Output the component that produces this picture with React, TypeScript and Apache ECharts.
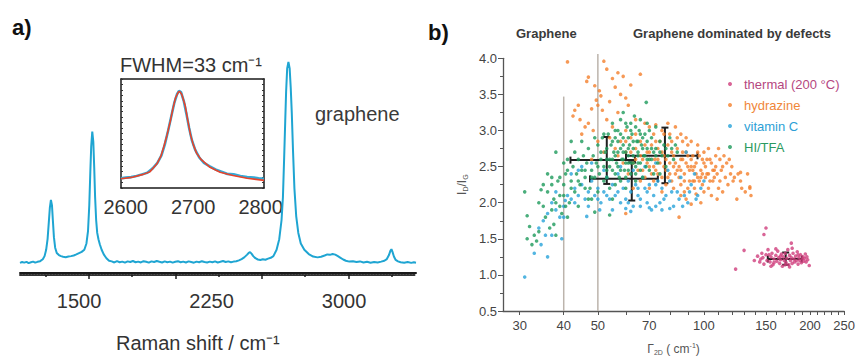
import React, { useEffect, useRef } from 'react';
import * as echarts from 'echarts';

// ---------- Panel a) Raman spectrum ----------
const SPECTRUM: [number, number][] = [
  [1166, 0.048], [1178, 0.052], [1190, 0.049], [1203, 0.053], [1215, 0.047], [1228, 0.051], [1240, 0.054], [1252, 0.049],
  [1265, 0.053], [1280, 0.056], [1295, 0.065], [1305, 0.08], [1314, 0.11], [1322, 0.16], [1329, 0.24], [1335, 0.31],
  [1341, 0.346], [1347, 0.32], [1352, 0.25], [1358, 0.17], [1365, 0.12], [1374, 0.095], [1386, 0.085], [1398, 0.08],
  [1410, 0.077], [1425, 0.075], [1440, 0.078], [1455, 0.08], [1470, 0.083], [1485, 0.088], [1500, 0.094], [1515, 0.1],
  [1530, 0.11], [1542, 0.14], [1551, 0.2], [1558, 0.32], [1564, 0.48], [1569, 0.6], [1575, 0.67], [1581, 0.62],
  [1586, 0.5], [1591, 0.36], [1597, 0.25], [1603, 0.19], [1610, 0.16], [1618, 0.135], [1628, 0.11], [1640, 0.088],
  [1655, 0.07], [1670, 0.058], [1685, 0.055], [1700, 0.05], [1715, 0.056], [1730, 0.051], [1745, 0.054], [1760, 0.049],
  [1775, 0.055], [1790, 0.052], [1805, 0.057], [1820, 0.051], [1835, 0.054], [1850, 0.05], [1865, 0.056], [1880, 0.053],
  [1895, 0.049], [1910, 0.055], [1925, 0.052], [1940, 0.057], [1955, 0.053], [1970, 0.05], [1985, 0.055], [2000, 0.051],
  [2015, 0.054], [2030, 0.049], [2045, 0.053], [2060, 0.056], [2075, 0.051], [2090, 0.054], [2105, 0.05], [2120, 0.055],
  [2135, 0.052], [2150, 0.049], [2165, 0.054], [2180, 0.051], [2195, 0.056], [2210, 0.052], [2225, 0.05], [2240, 0.054],
  [2255, 0.051], [2270, 0.055], [2285, 0.05], [2300, 0.053], [2315, 0.057], [2330, 0.052], [2345, 0.055], [2360, 0.051],
  [2375, 0.054], [2390, 0.056], [2405, 0.06], [2420, 0.066], [2435, 0.074], [2450, 0.086], [2460, 0.095], [2468, 0.099],
  [2476, 0.092], [2486, 0.08], [2498, 0.07], [2512, 0.064], [2526, 0.062], [2540, 0.065], [2555, 0.063], [2570, 0.068],
  [2585, 0.072], [2600, 0.08], [2618, 0.11], [2633, 0.16], [2646, 0.25], [2654, 0.36], [2661, 0.55], [2667, 0.72],
  [2672, 0.86], [2678, 0.97], [2685, 1.0], [2692, 0.97], [2698, 0.88], [2704, 0.76], [2711, 0.58], [2719, 0.4],
  [2729, 0.27], [2741, 0.19], [2755, 0.14], [2775, 0.11], [2800, 0.09], [2825, 0.078], [2850, 0.074], [2870, 0.077],
  [2890, 0.083], [2905, 0.088], [2920, 0.086], [2935, 0.09], [2950, 0.087], [2965, 0.08], [2980, 0.072], [2995, 0.064],
  [3010, 0.058], [3030, 0.054], [3050, 0.056], [3070, 0.052], [3090, 0.055], [3110, 0.05], [3130, 0.053], [3150, 0.049],
  [3170, 0.052], [3190, 0.05], [3210, 0.054], [3228, 0.058], [3242, 0.066], [3254, 0.085], [3262, 0.105], [3268, 0.113],
  [3274, 0.1], [3282, 0.078], [3292, 0.062], [3305, 0.055], [3320, 0.051], [3340, 0.049], [3360, 0.052], [3380, 0.048],
  [3395, 0.051], [3407, 0.049],
];
const SPEC_LABELS = [1500, 2250, 3000];
const SPEC_MAJOR_TICKS = [1555, 2045, 2535, 3025];
const SPEC_MINOR_TICKS = [1310, 1800, 2290, 2780, 3270];

// inset (2D band)
const INSET_MEASURED: [number, number][] = [
  [2593, 0.09], [2600, 0.095], [2608, 0.1], [2616, 0.11], [2624, 0.125], [2632, 0.14], [2640, 0.18], [2647, 0.23],
  [2653, 0.3], [2658, 0.4], [2663, 0.53], [2668, 0.67], [2672, 0.78], [2676, 0.86], [2679, 0.89], [2682, 0.88],
  [2686, 0.8], [2690, 0.68], [2694, 0.55], [2698, 0.44], [2703, 0.35], [2709, 0.28], [2716, 0.23], [2724, 0.2],
  [2733, 0.17], [2742, 0.15], [2750, 0.13], [2760, 0.125], [2770, 0.11], [2780, 0.1], [2790, 0.095], [2797, 0.09],
  [2805, 0.085],
];
const INSET_FIT: [number, number][] = [
  [2593, 0.085], [2611, 0.1], [2626, 0.125], [2636, 0.15], [2646, 0.22], [2652, 0.29], [2656, 0.37], [2661, 0.48],
  [2666, 0.61], [2670, 0.73], [2674, 0.83], [2678, 0.88], [2680, 0.885], [2683, 0.86], [2688, 0.76], [2692, 0.62],
  [2696, 0.49], [2700, 0.4], [2705, 0.32], [2712, 0.26], [2725, 0.19], [2740, 0.145], [2759, 0.115], [2780, 0.09],
  [2805, 0.07],
];
const INSET_LABELS = [2600, 2700, 2800];

// ---------- Panel b) I_D/I_G vs Gamma_2D ----------
const GAMMA_LABELS = [30, 40, 50, 70, 100, 150, 200, 250];
const GAMMA_TICKS = [30, 40, 50, 60, 70, 80, 90, 100, 110, 120, 130, 140, 150, 160, 170, 180, 190, 200, 210, 220, 230, 240, 250];
const GUIDE_LINES: [number, number][] = [[40, 3.47], [50, 4.06]];

const THERMAL: [number, number][] = [
  [150, 1.65], [148, 1.56], [123, 1.08], [130, 1.34], [139, 1.2], [177, 1.44], [142, 1.26], [145, 1.22], [146, 1.3],
  [148, 1.15], [150, 1.28], [151, 1.2], [152, 1.35], [154, 1.18], [155, 1.25], [156, 1.3], [157, 1.14], [158, 1.22],
  [160, 1.27], [161, 1.19], [162, 1.33], [163, 1.24], [164, 1.16], [165, 1.21], [166, 1.29], [167, 1.12], [168, 1.25],
  [169, 1.2], [170, 1.3], [171, 1.17], [172, 1.23], [173, 1.35], [174, 1.14], [175, 1.27], [176, 1.2], [177, 1.24],
  [178, 1.16], [179, 1.3], [180, 1.22], [181, 1.18], [182, 1.26], [183, 1.2], [184, 1.32], [185, 1.15], [186, 1.24],
  [187, 1.2], [188, 1.28], [189, 1.17], [190, 1.22], [191, 1.25], [192, 1.19], [193, 1.23], [195, 1.18], [196, 1.25],
  [197, 1.21], [199, 1.13], [160, 1.36], [155, 1.12], [178, 1.37], [144, 1.18], [153, 1.28], [175, 1.11], [185, 1.28],
  [165, 1.26], [158, 1.17], [170, 1.14], [194, 1.29], [147, 1.24],
];
const HYDRAZINE: [number, number][] = [
  [41, 3.95], [52, 3.96], [47, 3.74], [46.5, 3.68], [49, 3.62], [50.5, 3.55], [51, 3.48], [49.5, 3.42], [50, 3.35],
  [48, 3.3], [51.5, 3.28], [53, 3.85], [55, 3.72], [57, 3.8], [59, 3.75], [62, 3.63], [66, 3.78], [56, 3.6], [58, 3.5],
  [60, 3.45], [54, 3.4], [44, 3.35], [43, 3.28], [42.5, 3.2], [44.5, 3.15], [46, 3.05], [45, 2.95], [47, 3.1], [48.5, 3.0],
  [53, 3.15], [55, 3.05], [57, 3.25], [61, 3.35], [64, 3.15], [68, 3.1], [70, 3.05], [73, 3.08], [76, 3.0], [79, 3.1],
  [83, 3.05], [86, 2.95], [89, 2.9], [92, 2.85], [58, 2.85], [60, 2.7], [62, 2.9], [63, 2.55], [64, 2.75], [65, 2.45],
  [66, 2.85], [67, 2.6], [68, 2.35], [69, 2.7], [70, 2.5], [71, 2.8], [72, 2.3], [72.5, 2.6], [73, 2.45], [74, 2.75],
  [75, 2.55], [76, 2.35], [77, 2.65], [78, 2.45], [79, 2.8], [80, 2.55], [81, 2.3], [82, 2.65], [83, 2.4], [84, 2.75],
  [85, 2.5], [86, 2.25], [87, 2.6], [88, 2.4], [89, 2.7], [90, 2.5], [91, 2.3], [92, 2.6], [93, 2.45], [94, 2.2],
  [95, 2.55], [96, 2.35], [97, 2.65], [98, 2.45], [99, 2.25], [100, 2.55], [102, 2.4], [104, 2.6], [106, 2.3], [108, 2.5],
  [110, 2.2], [112, 2.45], [115, 2.35], [118, 2.6], [121, 2.3], [125, 2.4], [128, 2.2], [131, 2.15], [135, 2.2],
  [136, 2.1], [124, 2.05], [113, 2.15], [105, 2.1], [98, 2.0], [95, 2.12], [89, 2.05], [85, 1.8], [76, 2.15], [70, 2.2],
  [66, 2.3], [61, 2.4], [59, 2.55], [57, 2.65], [56, 2.75], [63, 2.2], [100, 2.7], [96, 2.8], [103, 2.75], [108, 2.65],
  [111, 2.6], [90, 2.8], [84, 2.9], [80, 2.95], [75, 2.85], [72, 2.95], [64, 2.95], [60, 3.0], [54, 2.9], [52, 2.7],
  [50, 2.85], [48, 2.6], [60, 1.85], [71, 2.4], [79, 2.35], [86, 2.45], [93, 2.3], [101, 2.35], [107, 2.45], [116, 2.55],
  [82, 2.2], [88, 2.15], [77, 2.5], [74, 2.4], [69, 2.55], [67, 2.45], [99, 2.4], [103, 2.2], [119, 2.4], [127, 2.42],
  [81, 2.7], [83, 2.55], [85, 2.35], [87, 2.7], [89, 2.55], [91, 2.45], [93, 2.65], [95, 2.4], [97, 2.3], [99, 2.6],
  [101, 2.5], [103, 2.4], [105, 2.55], [107, 2.35], [109, 2.4], [111, 2.3], [113, 2.5], [117, 2.25], [120, 2.5],
  [122, 2.35], [127, 2.3], [114, 2.65], [110, 2.75], [96, 2.7], [92, 2.5], [88, 2.3], [84, 2.45], [80, 2.4], [78, 2.6],
  [76, 2.7], [74, 2.6], [72, 2.5], [70, 2.7], [68, 2.8], [66, 2.65], [64, 2.6], [62, 2.7], [60, 2.85], [135, 2.22],
  [133, 2.4], [109, 2.05], [92, 1.98], [82, 2.5], [86, 2.6], [90, 2.65], [94, 2.5], [98, 2.35], [102, 2.6], [106, 2.45],
  [104, 2.3], [100, 2.15], [94, 2.3], [90, 2.2], [86, 2.1], [81, 2.85], [87, 2.85], [77, 2.95], [73, 2.85], [78, 2.25],
];
const VITAMIN_C: [number, number][] = [
  [31, 0.97], [33, 1.3], [36, 1.25], [34.5, 1.42], [39.5, 1.5], [34, 1.65], [35, 1.75], [36, 1.85], [37, 2.0], [38, 1.9],
  [39, 1.8], [40, 1.95], [41, 2.1], [42, 2.05], [43, 2.2], [44, 2.1], [45, 2.25], [46, 2.05], [47, 2.15], [48, 2.3],
  [49, 2.1], [50, 2.2], [51, 2.0], [52, 2.15], [53, 2.35], [54, 2.05], [55, 2.25], [56, 2.1], [57, 2.4], [58, 2.0],
  [59, 2.2], [60, 2.05], [61, 2.3], [62, 2.15], [63, 1.95], [64, 2.25], [65, 2.1], [66, 1.95], [67, 2.35], [68, 2.2],
  [69, 2.0], [70, 2.25], [71, 1.9], [72, 2.1], [74, 2.3], [75, 2.0], [76, 2.2], [78, 2.1], [80, 2.3], [82, 1.95],
  [84, 2.15], [86, 2.35], [88, 2.1], [90, 2.0], [92, 2.25], [94, 2.4], [89, 2.7], [96, 2.1], [45, 2.5], [48, 2.55],
  [52, 2.45], [42, 2.4], [38, 2.15], [44, 2.45], [58, 2.5], [63, 2.45], [68, 2.5], [73, 2.55], [79, 2.45], [55, 1.9],
  [60, 1.92], [66, 2.05], [73, 1.95], [40, 1.8], [37, 1.55], [35.5, 1.55], [43, 2.0], [47, 1.95], [50, 2.05], [53, 2.1],
  [57, 2.15], [61, 2.0], [65, 2.2], [69, 2.15], [73, 2.25], [77, 2.05], [81, 2.15], [85, 2.05], [87, 1.95], [91, 2.15],
  [95, 2.05], [98, 2.2], [100, 2.3], [70, 1.93], [76, 1.9], [80, 1.92], [62, 1.88], [50.6, 1.9], [46.5, 1.81],
  [40.4, 2.03],
];
const HI_TFA: [number, number][] = [
  [31, 2.15], [31.5, 1.82], [32, 1.67], [33, 1.55], [33.5, 1.47], [32.5, 1.42], [34, 2.0], [34.5, 2.18], [35, 1.95],
  [35.5, 1.8], [36, 2.15], [36.5, 1.65], [37, 1.9], [37.5, 2.05], [38, 1.55], [38, 2.7], [38.5, 2.3], [39, 2.1],
  [39.5, 1.85], [40, 2.25], [40.5, 2.4], [41, 2.6], [41.5, 2.0], [42, 2.3], [42.5, 2.5], [43, 2.15], [43.5, 2.4],
  [44, 2.6], [44.5, 2.25], [45, 2.45], [45.5, 2.65], [46, 2.35], [46.5, 2.55], [47, 2.75], [47.5, 2.2], [48, 2.45],
  [48.5, 2.65], [49, 2.35], [49.5, 2.55], [50, 2.8], [50.5, 2.4], [51, 2.6], [51.5, 2.9], [52, 2.5], [52.5, 2.7],
  [53, 2.35], [53.5, 2.95], [54, 2.6], [54.5, 2.8], [55, 2.45], [55.5, 2.7], [56, 2.9], [56.5, 2.55], [57, 3.0],
  [57.5, 2.35], [58, 2.75], [58.5, 2.6], [59, 2.9], [59.5, 2.45], [60, 2.7], [60.5, 3.05], [61, 2.55], [61.5, 2.8],
  [62, 2.4], [62.5, 2.95], [63, 2.65], [63.5, 3.2], [64, 2.5], [64.5, 2.85], [65, 2.7], [65.5, 3.0], [66, 2.55],
  [66.5, 2.8], [68.6, 3.39], [67.5, 2.65], [68, 2.95], [68.5, 2.5], [69, 2.75], [70, 2.6], [71, 2.9], [72, 2.7],
  [73, 3.05], [74, 2.55], [75, 2.85], [76, 2.65], [78, 2.75], [80, 2.9], [82, 2.6], [84, 2.7], [52, 2.3], [54, 2.2],
  [56, 2.25], [58, 2.3], [60, 2.35], [50, 2.15], [47, 2.05], [44, 1.95], [46, 2.2], [48, 2.05], [55, 2.05], [53, 2.6],
  [57, 2.5], [59, 2.6], [61, 2.75], [63, 2.85], [65, 2.55], [62, 3.1], [58, 3.15], [55, 3.1], [52, 2.95], [49, 2.9],
  [45, 2.85], [43, 2.7], [42, 2.85], [40, 2.55], [39, 2.35], [37, 2.25], [36, 2.4], [35, 2.25], [70, 2.45], [72, 2.4],
  [66, 3.15], [69, 3.1], [60, 2.2], [64, 2.3], [67, 2.35], [75, 2.4], [78, 2.5], [40.5, 1.95], [41, 1.8], [37.5, 1.7],
  [34, 1.6], [31.5, 1.5], [59, 3.25], [61, 2.45], [56, 2.65], [49, 1.87], [54, 1.83], [53, 2.75], [55, 2.85], [57, 2.7],
  [59, 2.8], [61, 2.65], [63, 2.75], [65, 2.85], [67, 2.75], [69, 2.85], [71, 2.6], [73, 2.75], [75, 2.7], [77, 2.8],
  [79, 2.65], [81, 2.75], [83, 2.8], [70, 3.0], [66, 2.95], [62, 3.0], [58, 2.95], [54, 2.5], [56, 2.4], [58, 2.45],
  [60, 2.55], [62, 2.55], [64, 2.4], [66, 2.45], [68, 2.65], [50, 2.5], [48, 2.35], [46, 2.45], [44, 2.3], [42, 2.2],
  [41, 2.45], [40, 2.1], [39, 1.95], [38, 2.0], [37, 2.35], [51, 2.7], [53, 2.45], [55, 2.6], [57, 2.85], [59, 2.7],
  [61, 2.9], [63, 2.55], [65, 2.65], [67, 2.9], [69, 2.6], [71, 2.75], [73, 2.65], [64, 3.05], [60, 3.1], [56, 3.0],
];
// [centre Γ, centre ratio, Γ low, Γ high, ratio low, ratio high]
const ERROR_BARS: number[][] = [
  [53, 2.59, 41.8, 63.7, 2.26, 2.91],
  [62.4, 2.33, 47.5, 74, 2.03, 2.56],
  [77.5, 2.65, 60.1, 95.9, 2.27, 3.04],
  [170.6, 1.22, 151.8, 189.6, 1.14, 1.31],
];

const SERIES_NAMES = ['thermal (200 °C)', 'hydrazine', 'vitamin C', 'HI/TFA'];
const SERIES_COLORS = ['#cf3f7d', '#f47f2c', '#27a3da', '#1d9a5b'];
const LEGEND_TEXT_COLORS = ['#b5477f', '#f0873a', '#2d9fd6', '#2b9a60'];

const FONT = 'Liberation Sans, Arial, Helvetica, sans-serif';
const lg = (v: number) => Math.log10(v);
const toLog = (pts: [number, number][]) => pts.map(([g, r]) => [lg(g), r]);

export default function App() {
  const ref = useRef<HTMLDivElement>(null);

  useEffect(() => {
    if (!ref.current) return;
    const chart = echarts.init(ref.current, undefined, { renderer: 'svg' });

    const scatterData = [THERMAL, HYDRAZINE, VITAMIN_C, HI_TFA];
    const plain = (v: number) => String(Math.round(v));

    const option: any = {
      animation: false,
      backgroundColor: '#ffffff',
      textStyle: { fontFamily: FONT },
      grid: [
        { left: 20, top: 62, width: 396, height: 211 },
        { left: 121, top: 79, width: 143, height: 109 },
        { left: 503, top: 58.3, width: 342, height: 254.7 },
      ],
      xAxis: [
        {
          type: 'value', gridIndex: 0, min: 1166, max: 3407, position: 'bottom',
          axisLine: { show: true, onZero: false, lineStyle: { color: '#1a1a1a', width: 2 } },
          axisTick: { show: true, customValues: SPEC_MAJOR_TICKS, length: 6, lineStyle: { color: '#1a1a1a', width: 1.5 } },
          axisLabel: { show: true, customValues: SPEC_LABELS, fontSize: 20, color: '#333', margin: 18, fontFamily: FONT, formatter: plain },
          splitLine: { show: false },
        },
        {
          type: 'value', gridIndex: 0, min: 1166, max: 3407, position: 'bottom', offset: 2,
          axisLine: { show: true, onZero: false, lineStyle: { color: '#333', width: 2, type: [1.5, 1.5] } },
          axisTick: { show: true, customValues: SPEC_MINOR_TICKS, length: 2, lineStyle: { color: '#1a1a1a', width: 1.5 } },
          axisLabel: { show: false },
          splitLine: { show: false },
        },
        {
          type: 'value', gridIndex: 1, min: 2593, max: 2805, position: 'bottom',
          axisLine: { show: true, onZero: false, lineStyle: { color: '#1a1a1a', width: 1.5 } },
          axisTick: { show: false },
          axisLabel: { show: true, customValues: INSET_LABELS, fontSize: 20, color: '#333', margin: 9, fontFamily: FONT, formatter: plain },
          splitLine: { show: false },
        },
        {
          type: 'value', gridIndex: 1, min: 2593, max: 2805, position: 'top',
          axisLine: { show: true, onZero: false, lineStyle: { color: '#1a1a1a', width: 1.5 } },
          axisTick: { show: false }, axisLabel: { show: false }, splitLine: { show: false },
        },
        {
          type: 'value', gridIndex: 2, min: lg(26.9), max: lg(250), position: 'bottom',
          axisLine: { show: true, onZero: false, lineStyle: { color: '#555', width: 1.3 } },
          axisTick: { show: true, customValues: GAMMA_TICKS.map(lg), length: 4, lineStyle: { color: '#555', width: 1 } },
          axisLabel: {
            show: true, customValues: GAMMA_LABELS.map(lg), fontSize: 13, color: '#444', margin: 8, fontFamily: FONT,
            formatter: (v: number) => String(Math.round(Math.pow(10, v))),
          },
          splitLine: { show: false },
          name: '{n|Γ}{s|2D}{n| ( cm}{p|-1}{n|)}',
          nameLocation: 'middle', nameGap: 31,
          nameTextStyle: {
            rich: {
              n: { fontSize: 12, color: '#555', fontFamily: FONT, lineHeight: 14 },
              s: { fontSize: 7, color: '#555', fontFamily: FONT, verticalAlign: 'bottom', lineHeight: 14 },
              p: { fontSize: 7, color: '#555', fontFamily: FONT, verticalAlign: 'top', lineHeight: 14 },
            },
          },
        },
      ],
      yAxis: [
        { type: 'value', gridIndex: 0, min: 0, max: 1, show: false },
        {
          type: 'value', gridIndex: 1, min: 0, max: 1, interval: 0.05, position: 'left',
          axisLine: { show: true, lineStyle: { color: '#1a1a1a', width: 1.5 } },
          axisTick: { show: true, inside: true, length: 2, lineStyle: { color: '#333', width: 1 } },
          axisLabel: { show: false }, splitLine: { show: false },
        },
        {
          type: 'value', gridIndex: 1, min: 0, max: 1, interval: 0.05, position: 'right',
          axisLine: { show: true, lineStyle: { color: '#1a1a1a', width: 1.5 } },
          axisTick: { show: true, inside: true, length: 2, lineStyle: { color: '#333', width: 1 } },
          axisLabel: { show: false }, splitLine: { show: false },
        },
        {
          type: 'value', gridIndex: 2, min: 0.5, max: 4, interval: 0.5, position: 'left',
          axisLine: { show: true, lineStyle: { color: '#555', width: 1.3 } },
          axisTick: { show: true, length: 5, lineStyle: { color: '#555', width: 1 } },
          minorTick: { show: true, splitNumber: 2, length: 3, lineStyle: { color: '#555', width: 1 } },
          axisLabel: { fontSize: 13, color: '#444', margin: 6, fontFamily: FONT, formatter: (v: number) => v.toFixed(1) },
          splitLine: { show: false },
          name: '{n|I}{s|D}{n|/I}{s|G}',
          nameLocation: 'middle', nameGap: 34,
          nameTextStyle: {
            rich: {
              n: { fontSize: 12, color: '#555', fontFamily: FONT, lineHeight: 14 },
              s: { fontSize: 7, color: '#555', fontFamily: FONT, verticalAlign: 'bottom', lineHeight: 14 },
            },
          },
        },
      ],
      legend: {
        orient: 'vertical', left: 723, top: 72, itemWidth: 18, itemHeight: 4, itemGap: 7,
        icon: 'circle', selectedMode: false,
        textStyle: { fontSize: 13, fontFamily: FONT, lineHeight: 14 },
        data: SERIES_NAMES.map((n, i) => ({ name: n, textStyle: { color: LEGEND_TEXT_COLORS[i] } })),
      },
      graphic: [
        { type: 'text', x: 12, y: 27, style: { text: 'a)', fontSize: 22, fontWeight: 'bold', fontFamily: FONT, fill: '#111', verticalAlign: 'middle' } },
        { type: 'text', x: 428, y: 32, style: { text: 'b)', fontSize: 22, fontWeight: 'bold', fontFamily: FONT, fill: '#111', verticalAlign: 'middle' } },
        { type: 'text', x: 191, y: 65, style: { text: 'FWHM=33 cm⁻¹', fontSize: 20, fontFamily: FONT, fill: '#333', align: 'center', verticalAlign: 'middle' } },
        { type: 'text', x: 315, y: 114, style: { text: 'graphene', fontSize: 20, fontFamily: FONT, fill: '#3a3a3a', verticalAlign: 'middle' } },
        { type: 'text', x: 116, y: 343, style: { text: 'Raman shift / cm⁻¹', fontSize: 20, fontFamily: FONT, fill: '#333', verticalAlign: 'middle' } },
        { type: 'text', x: 516, y: 33, style: { text: 'Graphene', fontSize: 13, fontWeight: 'bold', fontFamily: FONT, fill: '#3a3a3a', verticalAlign: 'middle' } },
        { type: 'text', x: 633, y: 33, style: { text: 'Graphene dominated by defects', fontSize: 13, fontWeight: 'bold', fontFamily: FONT, fill: '#3a3a3a', verticalAlign: 'middle' } },
      ],
      series: [
        {
          type: 'line', xAxisIndex: 0, yAxisIndex: 0, data: SPECTRUM, showSymbol: false, silent: true,
          lineStyle: { color: '#1fa5d2', width: 2 },
        },
        {
          type: 'line', xAxisIndex: 2, yAxisIndex: 1, data: INSET_MEASURED, showSymbol: false, silent: true,
          lineStyle: { color: '#35a9d6', width: 2.6 },
        },
        {
          type: 'line', xAxisIndex: 2, yAxisIndex: 1, data: INSET_FIT, showSymbol: false, silent: true,
          lineStyle: { color: '#e8432a', width: 1.6 },
        },
        {
          type: 'custom', xAxisIndex: 4, yAxisIndex: 3, silent: true,
          data: GUIDE_LINES.map(([g, top]) => [lg(g), top]),
          renderItem: (_p: any, api: any) => {
            const x = api.value(0);
            const a = api.coord([x, 0.5]);
            const b = api.coord([x, api.value(1)]);
            return { type: 'line', shape: { x1: a[0], y1: a[1], x2: b[0], y2: b[1] }, style: { stroke: '#bcb4ac', lineWidth: 1.5 } };
          },
        },
        ...scatterData.map((d, i) => ({
          type: 'scatter', name: SERIES_NAMES[i], xAxisIndex: 4, yAxisIndex: 3,
          data: toLog(d), symbolSize: 3.6, silent: true,
          itemStyle: { color: SERIES_COLORS[i] },
        })),
        {
          type: 'custom', xAxisIndex: 4, yAxisIndex: 3, silent: true,
          data: ERROR_BARS.map((e) => [lg(e[0]), e[1], lg(e[2]), lg(e[3]), e[4], e[5]]),
          renderItem: (_p: any, api: any) => {
            const cx = api.value(0);
            const cy = api.value(1);
            const l = api.coord([api.value(2), cy]);
            const r = api.coord([api.value(3), cy]);
            const t = api.coord([cx, api.value(5)]);
            const b = api.coord([cx, api.value(4)]);
            const c = 3.5;
            const st = { stroke: '#1f1f1f', lineWidth: 2 };
            const ln = (x1: number, y1: number, x2: number, y2: number) => ({ type: 'line', shape: { x1, y1, x2, y2 }, style: st });
            return {
              type: 'group',
              children: [
                ln(l[0], l[1], r[0], r[1]),
                ln(l[0], l[1] - c, l[0], l[1] + c),
                ln(r[0], r[1] - c, r[0], r[1] + c),
                ln(t[0], t[1], b[0], b[1]),
                ln(t[0] - c, t[1], t[0] + c, t[1]),
                ln(b[0] - c, b[1], b[0] + c, b[1]),
              ],
            };
          },
        },
      ],
    };

    chart.setOption(option);
    return () => chart.dispose();
  }, []);

  return (
    <div
      ref={ref}
      style={{ position: 'absolute', left: 0, top: 0, width: 858, height: 361, background: '#fff' }}
    />
  );
}
